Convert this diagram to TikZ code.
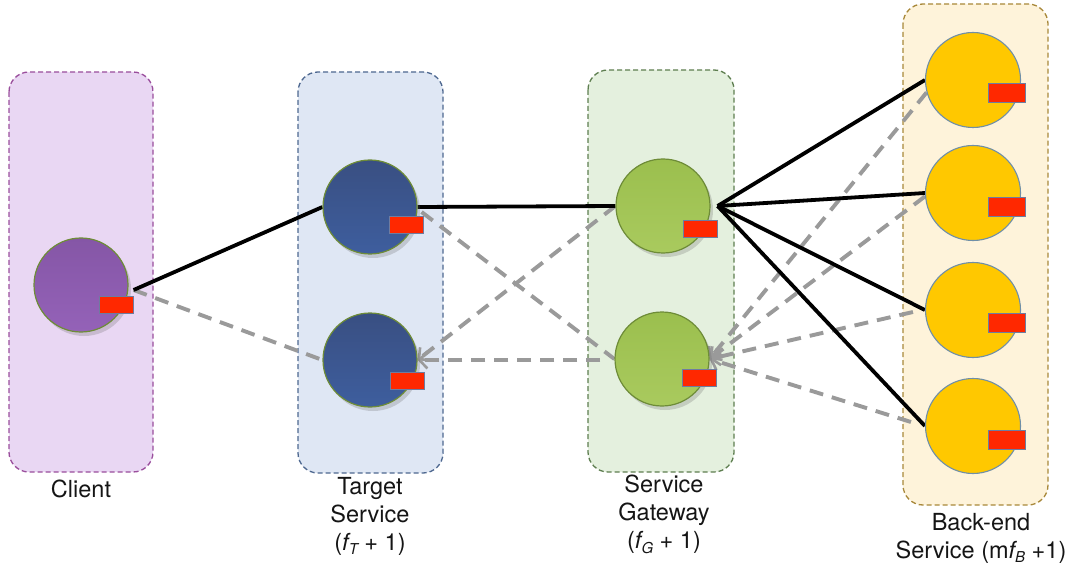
\documentclass[tikz,border=0pt]{standalone}
\usepackage{fontspec}
\setmainfont{TeX Gyre Heros}
\usetikzlibrary{arrows.meta,calc,shadows}

\definecolor{clientfill}{HTML}{E9D7F3}
\definecolor{clientedge}{HTML}{9A4E9C}
\definecolor{targetfill}{HTML}{DFE7F4}
\definecolor{targetedge}{HTML}{4E6890}
\definecolor{gatefill}{HTML}{E4F0DE}
\definecolor{gateedge}{HTML}{5E7E50}
\definecolor{backfill}{HTML}{FEF3DA}
\definecolor{backedge}{HTML}{A8883A}
\definecolor{clientdark}{HTML}{8556A6}
\definecolor{clientlight}{HTML}{9462B8}
\definecolor{targetdark}{HTML}{394F82}
\definecolor{targetlight}{HTML}{3E5E9E}
\definecolor{gatedark}{HTML}{9BBF4E}
\definecolor{gatelight}{HTML}{A9CA5E}
\definecolor{backball}{HTML}{FFC800}
\definecolor{ballrim}{HTML}{6E8C38}
\definecolor{backrim}{HTML}{6F8FA8}
\definecolor{portred}{HTML}{FF2800}
\definecolor{portrim}{HTML}{6E7CA0}
\definecolor{linkgray}{HTML}{9A9A9A}
\definecolor{labeltext}{HTML}{151515}

\pgfdeclarelayer{boxes}
\pgfdeclarelayer{links}
\pgfsetlayers{boxes,links,main}

% italic symbol with italic subscript
\newcommand{\fsym}[1]{{\itshape f}\raisebox{-0.35ex}{\fontsize{15}{15}\selectfont\itshape #1}}

\tikzset{
  groupbox/.style={rounded corners=20pt, line width=1.3pt, dash pattern=on 5pt off 3pt},
  ball/.style={circle, inner sep=0pt, minimum size=94pt, line width=1.2pt, draw=ballrim,
               shading angle=135,
               drop shadow={shadow xshift=3pt, shadow yshift=-4pt, opacity=0.25, fill=black!60}},
  clientball/.style={ball, top color=clientdark, bottom color=clientlight},
  targetball/.style={ball, top color=targetdark, bottom color=targetlight},
  gateball/.style={ball, top color=gatedark, bottom color=gatelight},
  backball/.style={circle, inner sep=0pt, minimum size=95pt, line width=1.1pt, draw=backrim, fill=backball},
  port/.style={rectangle, inner sep=0pt, minimum width=34pt, minimum height=17pt, fill=portred,
               draw=portrim, line width=0.8pt},
  bigport/.style={port, minimum width=37pt, minimum height=19pt},
  live/.style={line width=3.8pt, draw=black},
  standby/.style={line width=3.9pt, draw=linkgray, dash pattern=on 14pt off 9pt},
  standbyarrow/.style={standby, -{Straight Barb[length=8pt,width=17pt,line width=2.6pt]}},
  grouplabel/.style={align=center, text=labeltext, font=\fontsize{23.5}{28}\selectfont, inner sep=0pt}
}

\begin{document}
\begin{tikzpicture}[x=1pt,y=-1pt]
\useasboundingbox (0,0) rectangle (1070,569);

% group containers
\begin{pgfonlayer}{boxes}
\draw[groupbox, fill=clientfill, draw=clientedge] (9,72) rectangle (153,472);
\draw[groupbox, fill=targetfill, draw=targetedge] (298,72) rectangle (443,473);
\draw[groupbox, fill=gatefill, draw=gateedge] (588,70) rectangle (734,472);
\draw[groupbox, fill=backfill, draw=backedge] (903,4) rectangle (1048,505);
\end{pgfonlayer}

% replicas
\node[clientball] (cl) at (81,285) {};
\node[targetball] (tt) at (370,207) {};
\node[targetball] (tb) at (370,360) {};
\node[gateball] (gt) at (663,206) {};
\node[gateball] (gb) at (662,359) {};
\node[backball] (b1) at (973,80) {};
\node[backball] (b2) at (973,193) {};
\node[backball] (b3) at (973,310) {};
\node[backball] (b4) at (973,426) {};

% interface ports
\node[port] (clp) at ($(cl)+(35.5,20)$) {};
\node[port] (ttp) at ($(tt)+(36,17.5)$) {};
\node[port] (tbp) at ($(tb)+(37,21)$) {};
\node[port] (gtp) at ($(gt)+(37,23)$) {};
\node[port] (gbp) at ($(gb)+(37,19)$) {};
\node[bigport] (b1p) at ($(b1)+(34,12.5)$) {};
\node[bigport] (b2p) at ($(b2)+(34,14)$) {};
\node[bigport] (b3p) at ($(b3)+(34,12.5)$) {};
\node[bigport] (b4p) at ($(b4)+(34,13.5)$) {};

\coordinate (clport) at ($(cl.east)+(5,5)$);
\coordinate (hub) at ($(gt.east)+(7,0)$);

\begin{pgfonlayer}{links}
% standby (dashed) links
\draw[standby] (clport) -- (tb.west);
\draw[standby] ($(tt.east)+(4,5)$) -- (gb.west);
\draw[standbyarrow] (gt.west) -- (tb.east);
\draw[standbyarrow] ($(gb.west)+(-14,1)$) -- (tb.east);
\draw[standbyarrow] (b1.195) -- (gb.east);
\draw[standbyarrow] (b2.184) -- (gb.east);
\draw[standbyarrow] ($(b3.west)+(-12,2)$) -- (gb.east);
\draw[standbyarrow] ($(b4.west)+(-14,-4)$) -- (gb.east);
% live (solid) links
\draw[live] (clport) -- (tt.west);
\draw[live] (tt.east) -- (gt.west);
\draw[live] (hub) -- (b1.west);
\draw[live] (hub) -- (b2.west);
\draw[live] (hub) -- (b3.west);
\draw[live] (hub) -- (b4.west);
\end{pgfonlayer}

% group labels
\node[grouplabel, anchor=center] (lcl) at (81,489) {Client};
\node[grouplabel, anchor=north] (ltg) at (370,477) {Target\\Service\\(\fsym{T} + 1)};
\node[grouplabel, anchor=north] (lgw) at (664,475) {Service\\Gateway\\(\fsym{G} + 1)};
\node[grouplabel, anchor=north] (lbe) at (981,513) {Back-end\\Service (m\fsym{B} +1)};
\end{tikzpicture}
\end{document}
